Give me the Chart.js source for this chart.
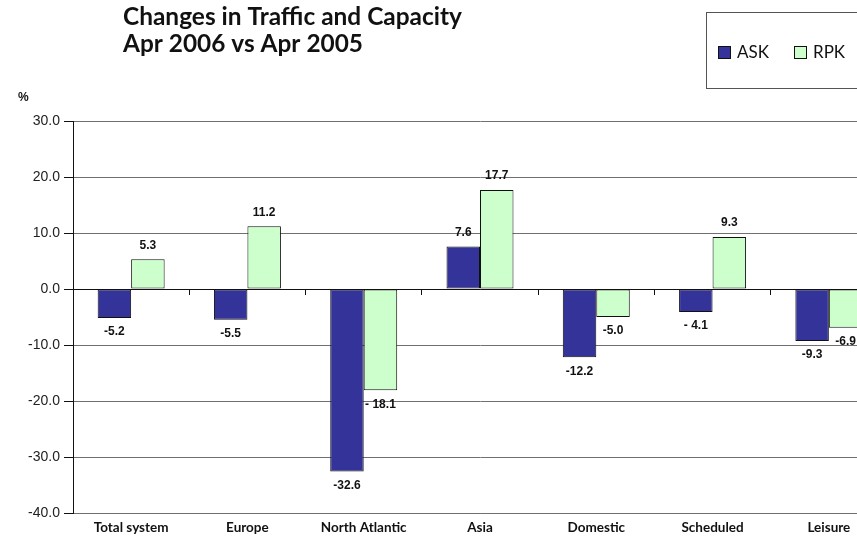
<!DOCTYPE html>
<html>
<head>
<meta charset="utf-8">
<script src="https://cdn.jsdelivr.net/npm/chart.js@4.4.1/dist/chart.umd.min.js"></script>
<style>
  html,body{margin:0;padding:0;background:#fff;overflow:hidden}
  #wrap{position:relative;width:890px;height:544px}
</style>
</head>
<body>
<div id="wrap"><canvas id="c"></canvas></div>
<script>
const categories=['Total system','Europe','North Atlantic','Asia','Domestic','Scheduled','Leisure'];
const askValues=[-5.2,-5.5,-32.6,7.6,-12.2,-4.1,-9.3];
const rpkValues=[5.3,11.2,-18.1,17.7,-5.0,9.3,-6.9];
const askLabels=['-5.2','-5.5','-32.6','7.6','-12.2','- 4.1','-9.3'];
const rpkLabels=['5.3','11.2','- 18.1','17.7','-5.0','9.3','-6.9'];
const yTicks=[30,20,10,0,-10,-20,-30,-40];

const titlePlugin={
  id:'titleText',
  afterDraw(chart){
    const ctx=chart.ctx;
    ctx.save();
    ctx.fillStyle='#111';
    ctx.textAlign='left';ctx.textBaseline='alphabetic';
    ctx.font="bold 25px Lato, sans-serif";
    ctx.fillText('Changes in Traffic and Capacity',123,25,339);
    ctx.fillText('Apr 2006 vs Apr 2005',123,52,240);
    ctx.font="bold 12px 'Liberation Sans', Arial, sans-serif";
    ctx.fillText('%',18,101);
    // legend box
    ctx.strokeStyle='#555';ctx.lineWidth=1;
    ctx.strokeRect(706.5,12.5,200,76);
    const ds=chart.data.datasets;
    const items=[{x:718,t:'ASK'},{x:794,t:'RPK'}];
    ctx.font="17px Lato, sans-serif";ctx.textBaseline='middle';
    items.forEach((it,i)=>{
      ctx.fillStyle=ds[i].backgroundColor;
      ctx.fillRect(it.x+0.5,46.5,12,12);
      ctx.strokeStyle='#111';ctx.strokeRect(it.x+0.5,46.5,12,12);
      ctx.fillStyle='#111';
      ctx.fillText(it.t,it.x+19,53);
    });
    ctx.restore();
  }
};

const valueLabels={
  id:'valueLabels',
  afterDatasetsDraw(chart){
    const ctx=chart.ctx;
    ctx.save();
    ctx.font="bold 12px 'Liberation Sans', Arial, sans-serif";
    ctx.fillStyle='#111';ctx.textAlign='center';ctx.textBaseline='middle';
    const texts=[askLabels,rpkLabels];
    chart.data.datasets.forEach((d,di)=>{
      chart.getDatasetMeta(di).data.forEach((bar,i)=>{
        const v=d.data[i];
        const y=v>=0?bar.y-14:bar.y+14;
        ctx.fillText(texts[di][i],bar.x,y);
      });
    });
    ctx.restore();
  }
};

new Chart(document.getElementById('c'),{
  type:'bar',
  data:{labels:categories,datasets:[
    {label:'ASK',data:askValues,backgroundColor:'#333399',borderColor:'#111',borderWidth:1,borderSkipped:false},
    {label:'RPK',data:rpkValues,backgroundColor:'#ccffcc',borderColor:'#111',borderWidth:1,borderSkipped:false}
  ]},
  options:{
    responsive:true,maintainAspectRatio:false,animation:false,
    categoryPercentage:0.576,barPercentage:1,
    layout:{padding:{top:121,right:3,left:0,bottom:0}},
    plugins:{legend:{display:false},tooltip:{enabled:false}},
    scales:{
      x:{
        offset:true,
        grid:{display:true,drawOnChartArea:false,drawTicks:false},
        border:{color:'#707070',width:1},
        ticks:{color:'#111',padding:7,font:{family:'Lato',weight:'bold',size:13.5}},
        afterFit(s){s.height=31}
      },
      x2:{
        type:'category',position:{y:0},offset:true,
        grid:{offset:true,drawOnChartArea:false,drawTicks:true,tickLength:5,color:'#111'},
        border:{color:'#111',width:1},
        ticks:{display:false}
      },
      y:{
        min:-40,max:30,
        afterBuildTicks(s){s.ticks=yTicks.map(v=>({value:v}))},
        grid:{color:'#707070',tickColor:'#111',tickLength:9},
        border:{color:'#111',width:1},
        ticks:{color:'#222',padding:4,font:{family:"'Liberation Sans', Arial, sans-serif",size:14},callback:v=>v.toFixed(1)},
        afterFit(s){s.width=73}
      }
    }
  },
  plugins:[titlePlugin,valueLabels]
});
</script>
</body>
</html>
